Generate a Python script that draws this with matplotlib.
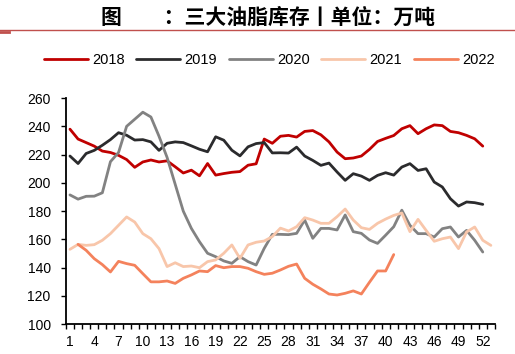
import numpy as np
import matplotlib
matplotlib.use("Agg")
import matplotlib.pyplot as plt
from matplotlib.lines import Line2D
from matplotlib.ticker import FixedLocator, NullFormatter

plt.rcParams['font.family'] = ['Liberation Sans', 'Noto Sans CJK SC', 'DejaVu Sans']

nan = np.nan
weeks = list(range(1, 54))
xtick_labels = list(range(1, 54, 3))

y2018 = [238, 231, 228.5, 226, 222.5, 221.5, 219.5, 216.5, 211, 214.8,
         216.2, 214.8, 215.6, 211.4, 207, 209, 205, 213.7, 205.5, 206.6,
         207.5, 208, 212.5, 213.5, 231, 228, 233, 233.6, 232.4, 236.4,
         237, 234, 229, 221.8, 217.1, 217.6, 219, 223.7, 229.3, 231.5,
         233.5, 238.3, 240.5, 234.8, 238.3, 241, 240.5, 236.4, 235.5, 233.6,
         231.2, 226, nan]
y2019 = [219, 213.7, 220.8, 223, 226.6, 230.6, 235.5, 233.7, 230.3, 230.6,
         229, 223, 228, 229, 228.5, 226.2, 223.8, 222, 232.6, 230.2,
         223.1, 219.1, 225.5, 227.8, 228.5, 221.2, 221.3, 221.1, 225.3, 219,
         215.9, 212.4, 214, 207.7, 201.8, 206.5, 204.8, 201.8, 205.3, 207.2,
         205.5, 211.2, 213.6, 208.8, 210, 200.6, 197.1, 188.8, 183.6, 186.5,
         186, 184.8, nan]
y2020 = [191.5, 188.5, 190.5, 190.6, 193, 215, 221.5, 240, 245, 250,
         246.6, 233, 218, 199, 180, 167.8, 158.4, 150.2, 147.8, 144.8,
         143.1, 147.8, 144.3, 141.9, 153.7, 163.6, 163.6, 163.4, 164.3, 173.7,
         160.8, 167.8, 167.8, 166.7, 177.3, 165.5, 164.3, 159.6, 157.2, 163,
         169, 180.7, 170, 164.1, 164.1, 161.7, 167.6, 168.8, 161.7, 166.4,
         159.4, 151.1, nan]
y2021 = [153, 156.5, 155.8, 156.3, 159.4, 164.1, 170, 175.9, 172.3, 164.1,
         160.5, 153.5, 140.8, 143.5, 140.8, 141.2, 140, 144.3, 145.5, 150.2,
         156.1, 146.6, 156.1, 158, 158.9, 162, 168, 166, 169, 175.4,
         173.7, 171.4, 171.4, 176.1, 181.5, 173.7, 168.3, 167.1, 171.4, 174.4,
         177, 178.7, 165.5, 174.2, 166.4, 158.7, 160.5, 161.7, 153.5, 165.3,
         168.8, 159.4, 155.8]
y2022 = [nan, 156.5, 152.3, 146.4, 142.2, 137, 144.5, 142.9, 141.7, 135.8,
         130, 130, 130.6, 128.9, 132.5, 134.9, 137.7, 137.2, 141.5, 140,
         140.8, 140.8, 139.6, 137.2, 135.3, 136.1, 138.4, 141, 142.6, 132.5,
         128.3, 125, 121.4, 120.7, 121.9, 123.6, 121.4, 129.7, 137.7, 137.7,
         149.3] + [nan] * 12

series = [("2018", y2018, "#C00000"),
          ("2019", y2019, "#2B2B2D"),
          ("2020", y2020, "#828282"),
          ("2021", y2021, "#F8C6AA"),
          ("2022", y2022, "#F4825C")]

fig = plt.figure(figsize=(5.15, 3.54), dpi=100)
ax = fig.add_axes([0.128, 0.084, 0.833, 0.639])

for name, vals, col in series:
    ax.plot(weeks, vals, color=col, lw=2.0, solid_joinstyle="round",
            solid_capstyle="round", label=name)

ax.set_xlim(0.5, 53.5)
ax.set_ylim(100, 260)
ax.set_yticks(range(100, 261, 20))
ax.set_xticks(xtick_labels)
ax.xaxis.set_minor_locator(FixedLocator(np.arange(0.5, 54, 1)))
ax.xaxis.set_minor_formatter(NullFormatter())
ax.tick_params(axis="x", which="major", length=0, pad=8, labelsize=10)
ax.tick_params(axis="x", which="minor", length=3.5, width=1, direction="out")
ax.tick_params(axis="y", length=3.5, width=1, direction="out", labelsize=10, pad=7.5)
for s in ["top", "right"]:
    ax.spines[s].set_visible(False)
for s in ["left", "bottom"]:
    ax.spines[s].set_linewidth(1.3)
    ax.spines[s].set_color("black")

fig.text(0.52, 0.952, "图　　：三大油脂库存丨单位：万吨", ha="center", va="center",
         fontsize=15, fontweight="bold", family=["Noto Sans CJK SC", "DejaVu Sans"])
fig.add_artist(Line2D([0, 1], [0.914, 0.914], color="#C0504D", lw=1.0))
fig.add_artist(Line2D([0, 0.017], [0.911, 0.911], color="#C0504D", lw=2.0))

handles, labels = ax.get_legend_handles_labels()
fig.legend(handles, labels, loc="center", bbox_to_anchor=(0.523, 0.83), ncol=5,
           frameon=False, fontsize=10.5, handlelength=3.0, handletextpad=0.3,
           columnspacing=0.8)

fig.savefig("out.png", dpi=100)
